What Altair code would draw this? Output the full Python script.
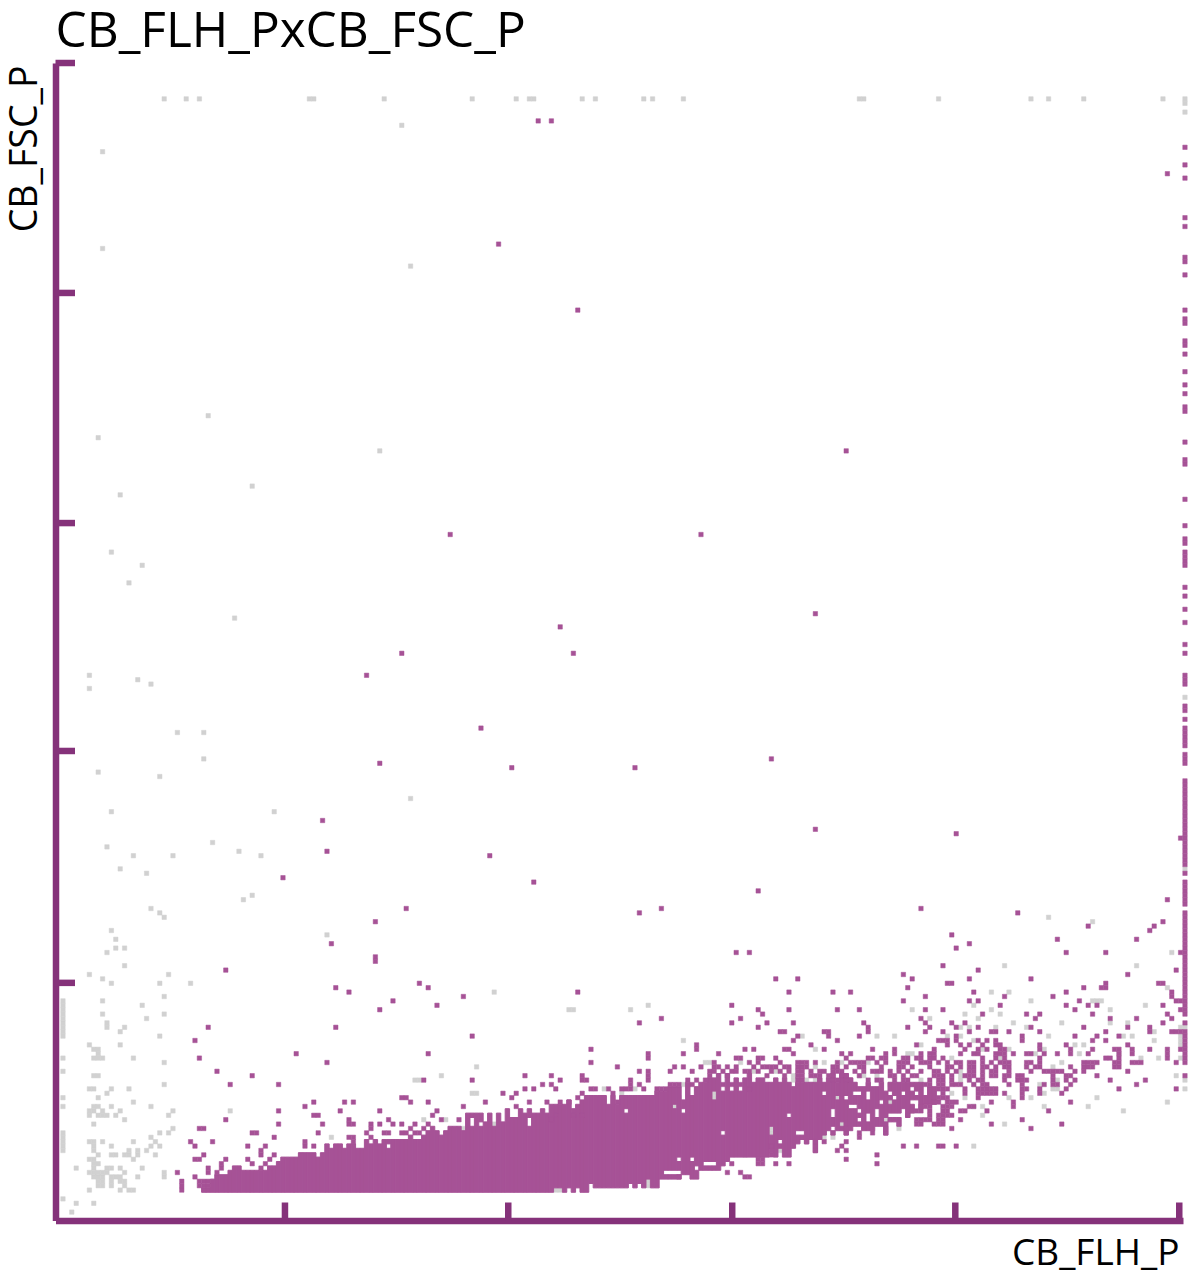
import altair as alt
import pandas as pd

TITLE = "CB_FLH_PxCB_FSC_P"
X_LABEL = "CB_FLH_P"
Y_LABEL = "CB_FSC_P"
PURPLE = "#A65296"
GRAY = "#D1D1D1"
AXIS = "#85327A"
X_TICKS = [50.95, 101.7, 152.6, 203.3, 254.2]
Y_TICKS = [47.6, 100.3, 152.1, 204.4, 256.66]

def run(a, b):
    return list(range(a, b + 1))

# dense population: for columns 32..198, lowest and highest occupied bin
band_low = [0] * 80 + [
    1, 1, 0, 1, 0, 1, 0, 0, 2, 1,
    1, 1, 1, 1, 1, 1, 1, 2, 1, 2,
    1, 3, 1, 1, 3, 3, 3, 3, 3, 4,
    4, 3, 3, 5, 5, 5, 5, 5, 6, 7,
    8, 8, 8, 8, 8, 8, 8, 8, 8, 9,
    8, 10, 8, 8, 10, 11, 12, 11, 12, 9,
    12, 13, 14, 13, 14, 14, 13, 14, 15, 15,
    14, 14, 14, 15, 15, 13, 16, 16, 15, 16,
    17, 18, 19, 19, 20, 20, 20]
band_top = [
    0, 0, 2, 3, 3, 3, 4, 5, 5, 4,
    4, 4, 4, 4, 4, 5, 5, 6, 7, 7,
    7, 7, 8, 8, 8, 8, 7, 8, 10, 9,
    10, 10, 9, 10, 10, 9, 9, 11, 10, 11,
    10, 11, 11, 11, 11, 11, 11, 12, 11, 11,
    12, 13, 14, 13, 12, 13, 14, 14, 14, 13,
    17, 17, 17, 17, 15, 17, 15, 17, 15, 18,
    16, 16, 18, 17, 18, 17, 17, 18, 17, 19,
    19, 19, 19, 20, 18, 19, 20, 21, 21, 21,
    21, 21, 19, 21, 19, 21, 21, 21, 21, 21,
    21, 21, 21, 22, 22, 22, 23, 23, 23, 20,
    24, 21, 23, 24, 24, 25, 25, 26, 22, 26,
    22, 25, 22, 25, 26, 24, 25, 25, 24, 24,
    25, 24, 25, 24, 23, 24, 24, 24, 24, 24,
    25, 24, 25, 26, 24, 26, 26, 25, 24, 23,
    23, 24, 23, 23, 24, 23, 24, 24, 24, 24,
    24, 24, 24, 24, 22, 23, 23]
band_holes = [
    (74, 10), (128, 18), (165, 17), (140, 7), (143, 7), (146, 6), (147, 6), (148, 6), (144, 5),
    (137, 4), (138, 4), (139, 4), (140, 4), (161, 14), (161, 13), (167, 13), (168, 13), (163, 11),
    (93, 15), (93, 16), (95, 15), (98, 15), (98, 16), (106, 15), (106, 16), (139, 19),
    (173, 22), (176, 21), (178, 21), (181, 22), (183, 22), (183, 21), (186, 20), (188, 20), (191, 22),
    (193, 23), (196, 22), (194, 22), (175, 18), (175, 17), (181, 18), (185, 18), (185, 17), (183, 17),
    (183, 16), (188, 17), (190, 17), (191, 18), (148, 22), (148, 21), (141, 18), (150, 13),
    (179, 19), (180, 19), (187, 23), (188, 22), (181, 16), (187, 16), (189, 17), (191, 17), (191, 16),
    (194, 20), (194, 19), (194, 18), (193, 20), (177, 15), (175, 14), (180, 22), (189, 21),
]

# isolated purple cells as (column, bin)
purple_cells = [
    (108, 243), (111, 243), (251, 231), (99, 215), (117, 200), (178, 168), (88, 149), (145, 149), (171, 131),
    (113, 128), (116, 122), (77, 122), (69, 117), (95, 105), (72, 97), (102, 96), (130, 96), (161, 98),
    (59, 84), (60, 77), (97, 76), (50, 71), (171, 82), (203, 81), (107, 70), (158, 68), (78, 64), (131, 63),
    (136, 64), (195, 64), (217, 63), (254, 80), (251, 66),
    (78, 64), (71, 61), (61, 56), (71, 53), (71, 52), (37, 50), (62, 46), (65, 45), (81, 47), (83, 46),
    (75, 43), (72, 41), (85, 42), (33, 37), (62, 37), (30, 34), (31, 30), (53, 31), (60, 29), (83, 31),
    (35, 27), (43, 26), (82, 25), (38, 24), (49, 24), (77, 21), (78, 21), (79, 20), (83, 20), (55, 19),
    (57, 20), (64, 20), (66, 20), (63, 18), (72, 18), (85, 18), (49, 18), (57, 17), (58, 17), (84, 17),
    (37, 16), (65, 16), (74, 16), (49, 15), (59, 15), (65, 15), (66, 15), (70, 15), (70, 14), (72, 15),
    (75, 15), (77, 15), (80, 15), (83, 15), (31, 14), (32, 14), (79, 14), (82, 14), (43, 13), (44, 13),
    (58, 13), (69, 13), (73, 13), (74, 13), (77, 13), (78, 13), (80, 13), (81, 13), (48, 12), (65, 12),
    (66, 12), (70, 12), (29, 11), (34, 11), (55, 11), (55, 10), (66, 11), (30, 10), (42, 10), (46, 10),
    (57, 10), (45, 9), (45, 8), (32, 8), (48, 8), (30, 7), (31, 7), (37, 7), (42, 7), (47, 7), (36, 6),
    (36, 5), (43, 6), (46, 6), (33, 5), (33, 4), (45, 5), (26, 4), (35, 4), (30, 3), (27, 2), (27, 1),
    (27, 0), (31, 2), (32, 2), (31, 1), (32, 1), (33, 2), (33, 1),
    (153, 54), (156, 54), (162, 48), (167, 48), (165, 45), (83, 46), (81, 47), (91, 44), (117, 45),
    (85, 42), (152, 42), (158, 41), (159, 40), (165, 41), (154, 39), (152, 38), (160, 38), (158, 37),
    (166, 38), (131, 38), (136, 39), (93, 35), (163, 36), (164, 36), (166, 34), (167, 35), (170, 33),
    (83, 31), (120, 32), (120, 29), (133, 31), (133, 30), (141, 31), (144, 33), (144, 32), (149, 31),
    (155, 32), (157, 32), (164, 32), (165, 32), (166, 31), (153, 30), (154, 30), (158, 30), (159, 30),
    (162, 30), (126, 28), (139, 28), (141, 28), (145, 28), (148, 29), (148, 28), (149, 28), (151, 28),
    (153, 28), (156, 29), (158, 29), (163, 29), (167, 29), (169, 29), (159, 28), (160, 28), (161, 28),
    (162, 28), (164, 28), (165, 28), (167, 28), (169, 28), (157, 28), (138, 27), (143, 27), (131, 27),
    (133, 27), (133, 26), (133, 25), (82, 25), (93, 25), (105, 26), (111, 26), (113, 25), (118, 26),
    (118, 25), (119, 25), (84, 17), (85, 18), (83, 20), (86, 16), (90, 16), (83, 15), (91, 19), (96, 20),
    (100, 22), (102, 21), (103, 22), (103, 19), (106, 20), (110, 20), (105, 23), (107, 23), (109, 24),
    (111, 24), (112, 23), (113, 20), (115, 20), (118, 22), (117, 21), (112, 17), (111, 16), (116, 17),
    (118, 17), (120, 23), (121, 23), (124, 23), (125, 22), (126, 20), (127, 23), (128, 23), (129, 23),
    (129, 25), (129, 24), (131, 24), (132, 23),
    (135, 23), (136, 23), (137, 23), (138, 24), (139, 24), (140, 24), (142, 25), (143, 24), (144, 25),
    (146, 25), (147, 26), (147, 27), (148, 27), (150, 27), (151, 26), (152, 27), (153, 27), (155, 27),
    (156, 27), (158, 27), (160, 26), (161, 27), (163, 27), (164, 26), (165, 27), (167, 26), (168, 27),
    (150, 24), (152, 24), (154, 24), (156, 23), (162, 6), (165, 6), (158, 7), (159, 7), (158, 6), (159, 6),
    (152, 6), (151, 4), (154, 4), (155, 3), (156, 3), (140, 3), (161, 10), (161, 8),
    (195, 64), (217, 63), (251, 66), (250, 61), (248, 60), (247, 59), (233, 60), (244, 57), (226, 57),
    (202, 58), (206, 56), (203, 55), (228, 54), (237, 54), (254, 54), (200, 51), (208, 50), (253, 50),
    (242, 49), (220, 48), (191, 49), (193, 48), (206, 48), (201, 47), (202, 47), (192, 46), (249, 47),
    (250, 47), (232, 46), (236, 46), (237, 46), (237, 47), (175, 45), (179, 45), (207, 45), (228, 45),
    (252, 45), (252, 44), (214, 44), (225, 44), (196, 44), (253, 43), (254, 43), (191, 43), (206, 43),
    (208, 43), (231, 43), (213, 42), (228, 42), (233, 42), (235, 42), (250, 42), (176, 41), (181, 41),
    (196, 41), (200, 41), (230, 41), (254, 41), (209, 40), (219, 40), (222, 40), (234, 40), (251, 40),
    (195, 39), (221, 39), (238, 39), (244, 39), (252, 39), (182, 38), (196, 38), (202, 38), (205, 38),
    (250, 38), (183, 37), (183, 36), (192, 37), (197, 37), (203, 37), (206, 36), (208, 37), (220, 37),
    (232, 37), (242, 37), (247, 37), (247, 36), (173, 36), (174, 36), (174, 35), (196, 36), (200, 36),
    (211, 36), (212, 36), (215, 36), (222, 36), (237, 36), (252, 36), (253, 36), (254, 36), (218, 35),
    (218, 34), (230, 35), (235, 35), (240, 35), (181, 35), (176, 34), (199, 34), (200, 34), (201, 34),
    (234, 34), (237, 34), (203, 35), (203, 34), (210, 34), (208, 34), (212, 34), (170, 33), (194, 33),
    (201, 33), (204, 33), (206, 33), (209, 33), (212, 33), (213, 33), (222, 33), (228, 33), (242, 33),
    (173, 32), (184, 32), (189, 32), (189, 31), (198, 32), (205, 32), (208, 32), (210, 32), (213, 32),
    (214, 32), (222, 32), (229, 32), (229, 31), (234, 32), (239, 32), (240, 32), (243, 32), (243, 31),
    (247, 32), (251, 32), (251, 31), (254, 32),
]

# rows of the sparse right-hand fringe: bin -> occupied columns
purple_fringe = {
    31: [177, 179, 187, 195, 197, 198, 204, 207, 208, 212, 213, 214, 216, 219, 220, 223, 226, 233, 240],
    30: [178, 183, 184, 186, 187, 191, 192, 194, 195, 197, 198, 200, 209, 212, 214, 222, 237, 238, 240, 251],
    29: [168, 171, 176, 179, 180, 181, 182, 185, 187, 190, 191, 192, 195, 196, 197, 199, 201, 203, 204,
         206, 207, 209, 211, 213, 214, 215, 219, 220, 222, *run(232, 235), 239, 240, 243, 244, 245, 253, 255],
    28: [168, 175, 176, 178, 181, 182, 186, 190, 191, 193, 197, 201, 202, 204, 206, 207, 209, 210, 212, 214,
         215, 219, 221, 222, 229, 232, 233, 234, 239, 240],
    27: [167, 168, 170, 172, 173, 175, 176, 177, 180, 182, 184, 185, 186, 188, 190, 192, 195, 198, 199,
         201, 203, 206, 207, 209, 211, 212, 215, 220, *run(223, 227), 230, 232, 242],
    26: [167, 168, 170, 171, 172, 174, 175, 177, 178, 181, 188, 189, 191, 193, 194, 198, 199, 200, 202, 205,
         206, 207, 209, 211, 212, 214, 215, 217, 218, 225, 228, 229, 235],
    25: [167, 168, 175, 176, 178, 179, 183, 185, 186, 189, 191, 192, 197, 199, 200, 202, 206, 208, 209,
         214, 217, 218, 219, 225, 228, 230, 238, 246],
    24: [196, 197, 199, 200, 202, 203, 204, 207, 209, 210, 215, 218, 223, 225, 226, 229, 244],
    23: [199, 200, 201, 205, *run(208, 212), 218, 219, 222, 228, 240, 253],
    22: [200, 205, *run(208, 212), 214, 218, 222, 227],
    21: [199, 200, 201, 208, 218],
    20: [201, 202, 203, 211, 216, 229, 199, 198],
    19: [200, 201, 202, 206, 207, 216, 197, 196, 195],
    18: [194, 195, 197, 200, 201, 204, 205, 210, 224],
    17: [197, 199, 200, 201, 202, 192],
    16: [194, 195, 196, 197, 199, 200, 204, 218],
    15: [198, 199, 200, 211, 227, 194, 195],
    14: [178, 202, 220, 187],
    13: [178, 181, 184, 187],
    12: [181],
    11: [169, 171, 173, 178],
    10: [171, 177, 191, 194, 199, 200, 203],
    9: [171, 176, 178],
    8: [185],
    7: [178],
    6: [185],
}

# right-hand edge: column 255, occupied bins
edge_purple = [
    237, 233, 230, 221, 219, 212, 211, 208, 200, 198, 197, 193, 192, 190, 186, 183, 181, 178, 177, 170, 166, 165,
    157, 151, 148, 147, 145, 144, 143, 142, 137, 135, 132, 129, 124, 122, 117, 116, 115, 110, 109, 107,
    *run(101, 105), *run(97, 99), *run(74, 93), 72, *run(65, 70), *run(40, 63), 38, *run(30, 36), 26,
]
edge_gray = [248, 247, 245, 112, 73, 37]

gray_cells = [
    (20, 64), (23, 62), (41, 66), (11, 59), (12, 57), (12, 55), (14, 55), (10, 54), (14, 51), (6, 49), (9, 48),
    (11, 47), (22, 47), (24, 49), (29, 47), (9, 43), (18, 42), (23, 44), (9, 40), (23, 40), (19, 39),
    (0, 43), (0, 42), (0, 41), (0, 40), (0, 39), (0, 38), (0, 37), (0, 36), (0, 35), (10, 38), (10, 37), (14, 37),
    (13, 36), (22, 35), (6, 33), (13, 33), (7, 32), (8, 32), (8, 31), (7, 30), (8, 30), (9, 30), (16, 30), (0, 30),
    (23, 29), (0, 27), (7, 26), (8, 26), (23, 24), (6, 23), (7, 23), (11, 23), (15, 23), (10, 22), (8, 21), (0, 21),
    (16, 20), (0, 19), (7, 19), (8, 19), (11, 19), (20, 19), (6, 18), (7, 18), (9, 18), (13, 18), (25, 18), (6, 17),
    (8, 17), (9, 17), (10, 17), (12, 17), (24, 17), (14, 16), (7, 15), (25, 14), (22, 13), (24, 13), (20, 12),
    (0, 13), (0, 12), (0, 11), (0, 10), (0, 9), (6, 11), (7, 11), (9, 11), (16, 11), (21, 11), (7, 10), (7, 9),
    (11, 10), (20, 10), (22, 10), (15, 9), (17, 9), (17, 8), (19, 9), (8, 8), (11, 8), (12, 8), (14, 8), (15, 8),
    (21, 8), (6, 7), (7, 7), (16, 7), (7, 6), (8, 6), (3, 5), (7, 5), (10, 5), (11, 5), (13, 5), (18, 5),
    (6, 4), (7, 4), (8, 4), (9, 4), (10, 4), (14, 4), (23, 4), (23, 3), (7, 3), (8, 3), (9, 3), (11, 3), (12, 3),
    (13, 3), (17, 3), (8, 2), (9, 2), (11, 2), (13, 2), (14, 2), (8, 1), (9, 1), (11, 1), (14, 1), (6, 0), (13, 0),
    (15, 0), (16, 0), (0, -2), (3, -3), (7, -3), (2, -5), (60, 58), (80, 25), (81, 25), (38, 18), (82, 16), (61, 12),
    (54, 8),
    (98, 45), (115, 41), (116, 41), (129, 41), (133, 42), (141, 34), (168, 35), (171, 32), (94, 28), (86, 26),
    (93, 22), (94, 22), (146, 29), (147, 29), (154, 29), (157, 27), (162, 27), (166, 26), (166, 25), (170, 24),
    (171, 28), (169, 25), (171, 25), (141, 24), (144, 23), (123, 23), (127, 22), (130, 23), (133, 21), (140, 21),
    (148, 22), (148, 21), (139, 19), (120, 20), (161, 14), (161, 13), (150, 10), (151, 8), (155, 8), (156, 9),
    (163, 9), (115, 16), (91, 14), (98, 15), (82, 16), (87, 16), (133, 1), (133, 2), (112, 0), (113, 0),
    (176, 21), (188, 20), (187, 16), (177, 15),
    (224, 62), (234, 61), (214, 51), (244, 51), (252, 54), (211, 45), (215, 45), (251, 46), (220, 43), (234, 43),
    (235, 43), (236, 43), (193, 41), (211, 41), (238, 41), (246, 42), (207, 42), (205, 40), (213, 40), (197, 39),
    (208, 39), (216, 38), (227, 38), (238, 38), (242, 38), (204, 37), (206, 37), (212, 37), (219, 37), (254, 37),
    (168, 35), (185, 35), (189, 35), (201, 35), (204, 35), (224, 35), (241, 35), (243, 35), (248, 36), (248, 34),
    (254, 35), (254, 34), (254, 33), (207, 34), (171, 32), (195, 33), (230, 33), (232, 33), (209, 32), (215, 32),
    (223, 32), (231, 31), (192, 31), (193, 31), (202, 30), (213, 30), (221, 31), (245, 30), (249, 30), (254, 30),
    (240, 31), (227, 29), (219, 28), (177, 29), (173, 29), (171, 28), (183, 29), (225, 28), (185, 27), (185, 26),
    (181, 26), (182, 26), (204, 27), (204, 26), (204, 25), (171, 25), (172, 25), (180, 24), (188, 24), (195, 25),
    (207, 24), (210, 23), (211, 23), (212, 23), (222, 24), (226, 25), (223, 22), (225, 23), (226, 23), (215, 21),
    (220, 21), (235, 21), (205, 21), (202, 22), (253, 26), (255, 25), (255, 23), (209, 19), (207, 19), (209, 17),
    (233, 19), (223, 19), (241, 18), (251, 20), (214, 15), (190, 14), (175, 12), (173, 12), (207, 10),
    (23, 248), (28, 248), (31, 248), (56, 248), (57, 248), (73, 248), (93, 248), (103, 248), (106, 248), (107, 248),
    (118, 248), (121, 248), (132, 248), (134, 248), (141, 248), (181, 248), (182, 248), (199, 248), (220, 248),
    (224, 248), (232, 248), (250, 248), (77, 242), (9, 236), (9, 214), (79, 210), (33, 176), (8, 171), (72, 168),
    (43, 160), (13, 158), (11, 145), (18, 142), (15, 138), (39, 130), (6, 117), (6, 114), (17, 116), (20, 115),
    (26, 104), (32, 104), (32, 98), (22, 94), (8, 95), (11, 86), (48, 86), (79, 89), (10, 78), (16, 76), (13, 73),
    (25, 76), (19, 72), (34, 79), (40, 77), (45, 76), (43, 67), (41, 66), (20, 64), (22, 63),
]

# ---- tables built from the lists above ----
holes = set(band_holes)
band_rows = []
for i, (lo, hi) in enumerate(zip(band_low, band_top)):
    c = 32 + i
    start = None
    for r in range(lo, hi + 2):
        filled = r <= hi and (c, r) not in holes
        if filled and start is None:
            start = r
        if not filled and start is not None:
            band_rows.append({"c": c, "c2": c + 1, "r": start, "r2": r})
            start = None
band_df = pd.DataFrame(band_rows)

purple_set = set(purple_cells)
for r, cols in purple_fringe.items():
    purple_set.update((c, r) for c in cols)
purple_set.update((255, r) for r in edge_purple)
gray_set = set(gray_cells) | {(255, r) for r in edge_gray}


def cells_df(cells):
    rows = sorted(cells)
    return pd.DataFrame({"c": [a for a, _ in rows], "c2": [a + 1 for a, _ in rows],
                         "r": [b for _, b in rows], "r2": [b + 1 for _, b in rows]})


purple_df = cells_df(purple_set)
gray_df = cells_df(gray_set)

W, H = 1127.5, 1157.5
xs = alt.Scale(domain=[-1.2, 255.05], nice=False, zero=False)
ys = alt.Scale(domain=[-6.41, 256.66], nice=False, zero=False)
x_axis = alt.Axis(ticks=False, labels=False, grid=False, domainWidth=6.5, domainColor=AXIS,
                  title=X_LABEL, titleFont="Open Sans", titleFontSize=37, titleFontWeight="normal",
                  titleColor="black", titleAlign="right", titleBaseline="alphabetic",
                  titleX=W - 4, titleY=44)
y_axis = alt.Axis(ticks=False, labels=False, grid=False, domainWidth=6.5, domainColor=AXIS,
                  title=Y_LABEL, titleFont="Open Sans", titleFontSize=37.5, titleFontWeight="normal",
                  titleColor="black", titleAlign="right", titleBaseline="alphabetic", titleAngle=270,
                  titleX=-19, titleY=2)


def layer(df, color, width):
    return alt.Chart(df).mark_rect(color=color, stroke=color, strokeWidth=width, opacity=1, strokeOpacity=1).encode(
        x=alt.X("c:Q", scale=xs, axis=x_axis), x2="c2:Q",
        y=alt.Y("r:Q", scale=ys, axis=y_axis), y2="r2:Q")


x_ticks = alt.Chart(pd.DataFrame({"t": X_TICKS})).mark_rule(color=AXIS, strokeWidth=6.5).encode(
    x=alt.X("t:Q", scale=xs), y=alt.value(H), y2=alt.value(H - 18))
y_ticks = alt.Chart(pd.DataFrame({"t": Y_TICKS})).mark_rule(color=AXIS, strokeWidth=6.5).encode(
    y=alt.Y("t:Q", scale=ys), x=alt.value(0), x2=alt.value(19.5))

chart = alt.layer(
    layer(gray_df, GRAY, 0.5),
    layer(band_df, PURPLE, 1.0),
    layer(purple_df, PURPLE, 0.5),
    x_ticks, y_ticks,
).properties(
    width=W, height=H,
    title=alt.TitleParams(TITLE, anchor="start", font="Open Sans", fontSize=49.5, fontWeight="normal",
                          color="black", offset=2, dx=49),
    autosize=alt.AutoSizeParams(type="none"),
    padding={"left": 47.5, "top": 55, "right": 9, "bottom": 54},
).configure_view(stroke=None)

chart.save("out.html", embed_options={"renderer": "svg", "actions": False})
